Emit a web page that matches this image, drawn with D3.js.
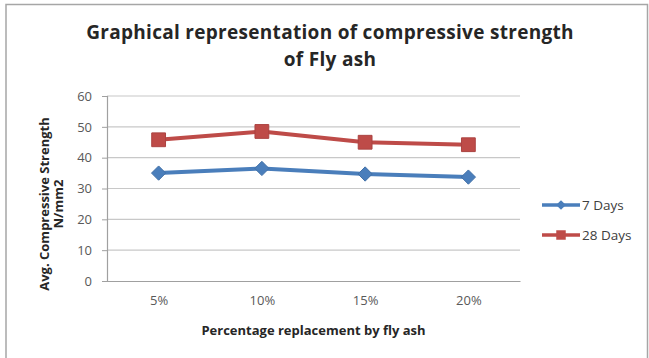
<!DOCTYPE html>
<html>
<head>
<meta charset="utf-8">
<script src="https://cdn.jsdelivr.net/npm/d3@7"></script>
<style>
  html, body { margin: 0; padding: 0; background: #fff; }
  svg { display: block; }
  text { font-family: "Open Sans", "Noto Sans", sans-serif; }
</style>
</head>
<body>
<svg id="chart" width="649" height="358"></svg>
<script>
// Replacement levels and average compressive strengths (N/mm2)
const categories = ["5%", "10%", "15%", "20%"];
const days7 = [35.0, 36.5, 34.7, 33.7];
const days28 = [45.8, 48.5, 45.0, 44.2];
const seriesNames = ["7 Days", "28 Days"];
const yTicks = [0, 10, 20, 30, 40, 50, 60];

const series = [
  { name: seriesNames[0], values: days7, color: "#4a7ebb", marker: "diamond" },
  { name: seriesNames[1], values: days28, color: "#be4b48", marker: "square" }
];

const svg = d3.select("#chart");
const W = 649, H = 358;
const plot = { left: 107, right: 520, top: 96, bottom: 281 };

// Outer chart frame (top and sides)
svg.append("path")
  .attr("d", `M6,${H} V4.5 H647.5 V${H}`)
  .attr("fill", "none")
  .attr("stroke", "#a6a6a6")
  .attr("stroke-width", 1.5);

const x = d3.scalePoint()
  .domain(categories)
  .range([plot.left, plot.right])
  .padding(0.5);

const y = d3.scaleLinear()
  .domain([0, 60])
  .range([plot.bottom, plot.top]);

// Horizontal gridlines
svg.append("g")
  .selectAll("line")
  .data(yTicks.filter(d => d > 0))
  .join("line")
  .attr("x1", plot.left)
  .attr("x2", plot.right)
  .attr("y1", d => y(d))
  .attr("y2", d => y(d))
  .attr("stroke", "#c8c8c8")
  .attr("stroke-width", 1.2);

// Y axis
const yAxis = svg.append("g")
  .attr("transform", `translate(${plot.left},0)`)
  .call(d3.axisLeft(y).tickValues(yTicks).tickSize(5).tickPadding(10));
yAxis.select(".domain").attr("stroke", "#a0a0a0").attr("stroke-width", 1.2);
yAxis.selectAll(".tick line").attr("stroke", "#a0a0a0");
yAxis.selectAll(".tick text").attr("fill", "#595959").style("font-size", "13px");

// X axis
const xAxis = svg.append("g")
  .attr("transform", `translate(0,${plot.bottom})`)
  .call(d3.axisBottom(x).tickSize(0).tickPadding(15));
xAxis.select(".domain").attr("stroke", "#a0a0a0").attr("stroke-width", 1.2);
xAxis.selectAll(".tick text").attr("fill", "#595959").style("font-size", "13px");

// Series lines and markers
const line = d3.line()
  .x((d, i) => x(categories[i]))
  .y(d => y(d));

series.forEach(s => {
  const g = svg.append("g");
  g.append("path")
    .datum(s.values)
    .attr("d", line)
    .attr("fill", "none")
    .attr("stroke", s.color)
    .attr("stroke-width", 4)
    .attr("stroke-linejoin", "round");
  const sym = s.marker === "diamond"
    ? d3.symbol().type(d3.symbolDiamond2).size(130)
    : d3.symbol().type(d3.symbolSquare).size(190);
  g.selectAll("path.marker")
    .data(s.values)
    .join("path")
    .attr("class", "marker")
    .attr("d", sym)
    .attr("transform", (d, i) => `translate(${x(categories[i])},${y(d)})`)
    .attr("fill", s.color)
    .attr("stroke", d3.color(s.color).darker(0.3))
    .attr("stroke-width", 1);
});

// Legend
const legend = svg.append("g");
series.forEach((s, i) => {
  const ly = 205 + i * 30;
  legend.append("line")
    .attr("x1", 542).attr("x2", 580)
    .attr("y1", ly).attr("y2", ly)
    .attr("stroke", s.color).attr("stroke-width", 3.5);
  const sym = s.marker === "diamond"
    ? d3.symbol().type(d3.symbolDiamond2).size(60)
    : d3.symbol().type(d3.symbolSquare).size(90);
  legend.append("path")
    .attr("d", sym)
    .attr("transform", `translate(561,${ly})`)
    .attr("fill", s.color);
  legend.append("text")
    .attr("x", 582).attr("y", ly)
    .attr("dy", "0.35em")
    .attr("fill", "#404040")
    .style("font-size", "13.5px")
    .text(s.name);
});

// Chart title
const title = svg.append("text")
  .attr("x", 330)
  .attr("text-anchor", "middle")
  .attr("font-weight", "bold")
  .attr("fill", "#262626")
  .style("font-size", "19px")
  .style("letter-spacing", "0.3px");
title.append("tspan").attr("x", 330).attr("y", 39).text("Graphical representation of compressive strength");
title.append("tspan").attr("x", 330).attr("y", 66).text("of Fly ash");

// Axis titles
svg.append("text")
  .attr("x", plot.left + (plot.right - plot.left) / 2)
  .attr("y", 335)
  .attr("text-anchor", "middle")
  .attr("font-weight", "bold")
  .attr("fill", "#262626")
  .style("font-size", "13px")
  .text("Percentage replacement by fly ash");

const yTitle = svg.append("text")
  .attr("transform", "translate(49,204) rotate(-90)")
  .attr("text-anchor", "middle")
  .attr("font-weight", "bold")
  .attr("fill", "#262626")
  .style("font-size", "13px");
yTitle.append("tspan").attr("x", 0).attr("y", 0).text("Avg. Compressive Strength");
yTitle.append("tspan").attr("x", 0).attr("y", 14).text("N/mm2");
</script>
</body>
</html>
